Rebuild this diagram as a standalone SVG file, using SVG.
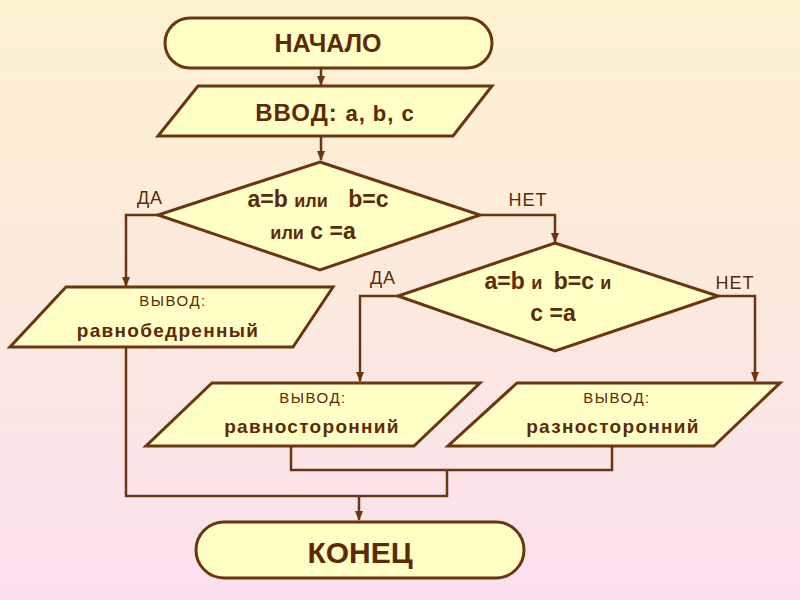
<svg xmlns="http://www.w3.org/2000/svg" width="800" height="600" viewBox="0 0 800 600">
<defs>
<linearGradient id="bg" x1="0" y1="0" x2="0" y2="1"><stop offset="0" stop-color="#fdf2cf"/><stop offset="1" stop-color="#fae0ee"/></linearGradient>
<marker id="ah" markerWidth="10" markerHeight="10" refX="9" refY="5" orient="auto" markerUnits="userSpaceOnUse"><path d="M0,1 L10,5 L0,9 Z" fill="#6b3512"/></marker>
<style>
.s{fill:#ffffc6;stroke:#6b3512;stroke-width:3}
.c{fill:none;stroke:#6b3512;stroke-width:2.5}
text{font-family:"Liberation Sans",Arial,sans-serif;fill:#5c2a06;text-anchor:middle}
.b{font-weight:bold}
.l{font-size:18px;letter-spacing:1px}
.v{font-size:15px;letter-spacing:1.5px}
.o{font-size:19px;font-weight:bold;letter-spacing:1.3px}
</style>
</defs>
<rect width="800" height="600" fill="url(#bg)"/>
<g id="connectors">
<line class="c" x1="321" y1="68" x2="321" y2="85" marker-end="url(#ah)"/>
<line class="c" x1="321" y1="136" x2="321" y2="160" marker-end="url(#ah)"/>
<polyline class="c" points="158,215 126,215 126,286" marker-end="url(#ah)"/>
<polyline class="c" points="480,215 555,215 555,242" marker-end="url(#ah)"/>
<polyline class="c" points="398,296 360,296 360,381" marker-end="url(#ah)"/>
<polyline class="c" points="718,296 755,296 755,381" marker-end="url(#ah)"/>
<polyline class="c" points="291,446 291,470 612,470 612,446"/>
<polyline class="c" points="126,347 126,496 447,496 447,470"/>
<line class="c" x1="359" y1="496" x2="359" y2="520" marker-end="url(#ah)"/>
</g>
<g id="start"><rect class="s" x="165" y="18" width="327" height="50" rx="25"/><text x="328" y="52" class="b" font-size="25">НАЧАЛО</text></g>
<g id="input"><polygon class="s" points="198,86 492,86 453,136 158,136"/><text x="335" y="121" class="b" font-size="24" letter-spacing="1">ВВОД: <tspan font-size="22">a, b, c</tspan></text></g>
<g id="cond1"><polygon class="s" points="320,162 480,215 320,270 158,215"/>
<text x="318" y="207" class="b" font-size="23">a=b <tspan font-size="18">или</tspan> <tspan dx="14">b=c</tspan></text>
<text x="313" y="239" class="b" font-size="23"><tspan font-size="18">или</tspan> c =a</text></g>
<text x="150" y="204" class="l">ДА</text>
<text x="528" y="206" class="l">НЕТ</text>
<g id="cond2"><polygon class="s" points="555,243 718,296 555,351 398,296"/>
<text x="548" y="289" class="b" font-size="23">a=b <tspan font-size="18">и</tspan> <tspan dx="5">b=c</tspan> <tspan font-size="18">и</tspan></text>
<text x="553" y="321" class="b" font-size="23">c =a</text></g>
<text x="383" y="284" class="l">ДА</text>
<text x="735" y="289" class="l">НЕТ</text>
<g id="out1"><polygon class="s" points="66,287 333,287 293,347 10,347"/><text x="173" y="306" class="v">ВЫВОД:</text><text x="168" y="337" class="o">равнобедренный</text></g>
<g id="out2"><polygon class="s" points="212,383 480,383 414,446 146,446"/><text x="313" y="403" class="v">ВЫВОД:</text><text x="312" y="433" class="o">равносторонний</text></g>
<g id="out3"><polygon class="s" points="517,383 780,383 714,446 448,446"/><text x="617" y="403" class="v">ВЫВОД:</text><text x="613" y="433" class="o">разносторонний</text></g>
<g id="end"><rect class="s" x="196" y="522" width="328" height="56" rx="28"/><text x="360" y="563" class="b" font-size="30">КОНЕЦ</text></g>
</svg>
